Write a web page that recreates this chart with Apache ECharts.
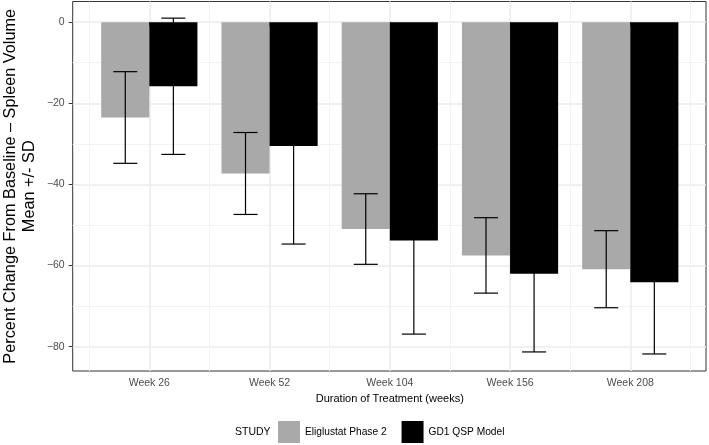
<!DOCTYPE html>
<html>
<head>
<meta charset="utf-8">
<script src="https://cdn.jsdelivr.net/npm/echarts@6/dist/echarts.min.js"></script>
<style>html,body{margin:0;padding:0;background:#fff}#c{width:709px;height:445px}</style>
</head>
<body>
<div id="c"></div>
<script>
const categories = ['Week 26', 'Week 52', 'Week 104', 'Week 156', 'Week 208'];
const eliglustatMean = [-23.5, -37.3, -51.0, -57.5, -60.9];
const eliglustatSD = [11.3, 10.1, 8.7, 9.3, 9.5];
const qspMean = [-15.8, -30.5, -53.8, -62.0, -64.1];
const qspSD = [16.8, 24.2, 23.1, 19.3, 17.7];
const yMajorTicks = [-80, -60, -40, -20, 0];
const yMinorTicks = [-70, -50, -30, -10];
const xMajorLines = [0.5, 1.5, 2.5, 3.5, 4.5];
const seriesNames = ['Eliglustat Phase 2', 'GD1 QSP Model'];
const yMin = -86, yMax = 5.1;

const FONT = '"Liberation Sans", Arial, sans-serif';
const chart = echarts.init(document.getElementById('c'), null, {renderer: 'canvas'});

function errSeries(means, sds, sign) {
  return {
    type: 'custom', xAxisIndex: 1, yAxisIndex: 2, z: 5, silent: true,
    data: means.map((m, i) => [i, m, sds[i]]),
    encode: {x: 0, y: 1},
    renderItem: function (params, api) {
      const i = api.value(0), m = api.value(1), s = api.value(2);
      const band = api.size([1, 0])[0];
      const cx = api.coord([i, m])[0] + sign * band * 0.2;
      const yt = api.coord([i, m + s])[1];
      const yb = api.coord([i, m - s])[1];
      const hw = band * 0.1;
      const st = {stroke: '#000', lineWidth: 1.2};
      return {type: 'group', children: [
        {type: 'line', shape: {x1: cx, y1: yt, x2: cx, y2: yb}, style: st},
        {type: 'line', shape: {x1: cx - hw, y1: yt, x2: cx + hw, y2: yt}, style: st},
        {type: 'line', shape: {x1: cx - hw, y1: yb, x2: cx + hw, y2: yb}, style: st}
      ]};
    }
  };
}

chart.setOption({
  animation: false,
  textStyle: {fontFamily: FONT},
  grid: [
    {left: 72.7, right: 3, top: 1.5, bottom: 74, show: true, borderColor: '#333', borderWidth: 1, backgroundColor: '#fff', containLabel: false, outerBoundsMode: 'none'},
    {left: 89.2, right: 18.6, top: 1.5, bottom: 74, show: false, containLabel: false, outerBoundsMode: 'none'}
  ],
  xAxis: [
    {gridIndex: 0, type: 'value', min: 0, max: 1, show: false, position: 'bottom'},
    {gridIndex: 1, type: 'category', data: categories, position: 'bottom',
      axisLine: {show: false},
      axisTick: {show: true, alignWithLabel: true, length: 4, lineStyle: {color: '#333', width: 1}},
      axisLabel: {color: '#4d4d4d', fontSize: 10.5, margin: 7, fontFamily: FONT},
      splitLine: {show: true, lineStyle: {color: '#f3f3f3', width: 1}},
      name: 'Duration of Treatment (weeks)', nameLocation: 'middle', nameGap: 20,
      nameTextStyle: {color: '#000', fontSize: 11, fontFamily: FONT}
    },
    {gridIndex: 1, type: 'value', min: 0, max: 5, position: 'bottom',
      axisLine: {show: false}, axisLabel: {show: false},
      axisTick: {show: false, customValues: xMajorLines},
      splitLine: {show: true, lineStyle: {color: '#ebebeb', width: 1.5}}
    }
  ],
  yAxis: [
    {gridIndex: 0, type: 'value', min: yMin, max: yMax, position: 'left',
      axisLine: {show: false}, axisLabel: {show: false},
      axisTick: {show: false, customValues: yMinorTicks},
      splitLine: {show: true, lineStyle: {color: '#f3f3f3', width: 1}}
    },
    {gridIndex: 0, type: 'value', min: yMin, max: yMax, position: 'left',
      axisLine: {show: false},
      axisTick: {show: true, length: 4, customValues: yMajorTicks, lineStyle: {color: '#333', width: 1}},
      axisLabel: {customValues: yMajorTicks, color: '#4d4d4d', fontSize: 10.5, margin: 8, fontFamily: FONT,
        hideOverlap: false, formatter: v => String(v).replace('-', '\u2212')},
      splitLine: {show: true, lineStyle: {color: '#ebebeb', width: 1.5}},
      name: 'Percent Change From Baseline \u2013 Spleen Volume\nMean +/- SD',
      nameLocation: 'middle', nameRotate: 90, nameGap: 34, nameMoveOverlap: false,
      nameTextStyle: {color: '#000', fontSize: 16.3, lineHeight: 19, fontFamily: FONT, align: 'center'}
    },
    {gridIndex: 1, type: 'value', min: yMin, max: yMax, show: false, position: 'left'}
  ],
  legend: {
    data: seriesNames, left: 278, top: 421, padding: 0, itemWidth: 22, itemHeight: 22, itemGap: 15,
    icon: 'rect', textStyle: {color: '#000', fontSize: 10.2, fontFamily: FONT}, selectedMode: false
  },
  graphic: [
    {type: 'text', left: 235, top: 427, style: {text: 'STUDY', fill: '#000', font: '10.5px ' + FONT}}
  ],
  series: [
    {name: seriesNames[0], type: 'bar', xAxisIndex: 1, yAxisIndex: 2, data: eliglustatMean,
      barWidth: '40%', barGap: '0%', itemStyle: {color: '#a9a9a9'}},
    {name: seriesNames[1], type: 'bar', xAxisIndex: 1, yAxisIndex: 2, data: qspMean,
      barWidth: '40%', barGap: '0%', itemStyle: {color: '#000'}},
    errSeries(eliglustatMean, eliglustatSD, -1),
    errSeries(qspMean, qspSD, 1)
  ]
});
</script>
</body>
</html>
